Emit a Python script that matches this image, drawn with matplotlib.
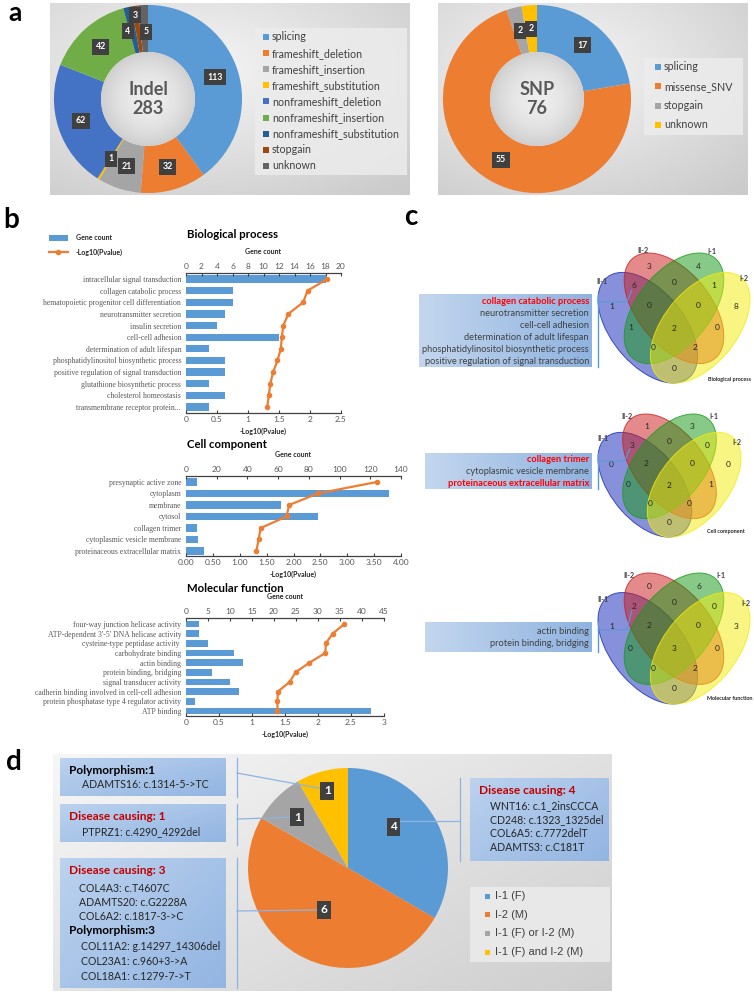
import numpy as np
import matplotlib
matplotlib.use('Agg')
import matplotlib.pyplot as plt
from matplotlib.patches import Rectangle, Ellipse, Circle
from matplotlib.colors import to_rgb

W, H = 754, 992
plt.rcParams['font.family'] = ['Lato', 'DejaVu Sans']

#%% data - panel a
indel_types = ['splicing', 'frameshift_deletion', 'frameshift_insertion', 'frameshift_substitution',
               'nonframeshift_deletion', 'nonframeshift_insertion', 'nonframeshift_substitution',
               'stopgain', 'unknown']
indel_counts = [113, 32, 21, 1, 62, 42, 4, 3, 5]
snp_types = ['splicing', 'missense_SNV', 'stopgain', 'unknown']
snp_counts = [17, 55, 2, 2]

#%% data - panel b
bp_terms = ['intracellular signal transduction', 'collagen catabolic process',
            'hematopoietic progenitor cell differentiation', 'neurotransmitter secretion',
            'insulin secretion', 'cell-cell adhesion', 'determination of adult lifespan',
            'phosphatidylinositol biosynthetic process', 'positive regulation of signal transduction',
            'glutathione biosynthetic process', 'cholesterol homeostasis', 'transmembrane receptor protein...']
bp_genes = [18, 6, 6, 5, 4, 12, 3, 5, 5, 3, 5, 3]
bp_logp = [2.28, 1.96, 1.89, 1.65, 1.57, 1.545, 1.53, 1.475, 1.405, 1.36, 1.335, 1.31]

cc_terms = ['presynaptic active zone', 'cytoplasm', 'membrane', 'cytosol', 'collagen trimer',
            'cytoplasmic vesicle membrane', 'proteinaceous extracellular matrix']
cc_genes = [7, 132, 62, 86, 7, 8, 12]
cc_logp = [3.55, 2.45, 1.92, 1.87, 1.39, 1.35, 1.31]

mf_terms = ['four-way junction helicase activity', "ATP-dependent 3'-5' DNA helicase activity",
            'cysteine-type peptidase activity ', 'carbohydrate binding', 'actin binding',
            'protein binding, bridging', 'signal transducer activity',
            'cadherin binding involved in cell-cell adhesion',
            'protein phosphatase type 4 regulator activity', 'ATP binding']
mf_genes = [3, 3, 5, 11, 13, 6, 10, 12, 2, 42]
mf_logp = [2.40, 2.22, 2.12, 2.11, 1.87, 1.66, 1.57, 1.39, 1.385, 1.385]

#%% data - panel c (region order below)
venn_sets = ['II-1', 'II-2', 'I-1', 'I-2']
venn_regions = ['II-1', 'II-2', 'I-1', 'I-2', 'II-1&II-2', 'II-1&I-1', 'II-1&I-2', 'II-2&I-1',
                'II-2&I-2', 'I-1&I-2', 'II-1&II-2&I-1', 'II-1&II-2&I-2', 'II-1&I-1&I-2',
                'II-2&I-1&I-2', 'all']
bp_venn = [1, 3, 4, 8, 6, 1, 0, 0, 0, 1, 0, 2, 0, 0, 2]
cc_venn = [0, 1, 3, 0, 3, 0, 0, 0, 1, 0, 2, 0, 0, 0, 2]
mf_venn = [1, 0, 6, 3, 2, 0, 0, 0, 0, 0, 2, 2, 0, 0, 3]
bp_shared = ['collagen catabolic process', 'neurotransmitter secretion', 'cell-cell adhesion',
             'determination of adult lifespan', 'phosphatidylinositol biosynthetic process',
             'positive regulation of signal transduction']
bp_red = [True, False, False, False, False, False]
cc_shared = ['collagen trimer', 'cytoplasmic vesicle membrane', 'proteinaceous extracellular matrix']
cc_red = [True, False, True]
mf_shared = ['actin binding', 'protein binding, bridging']
mf_red = [False, False]

#%% data - panel d
d_groups = ['I-1 (F)', 'I-2 (M)', 'I-1 (F) or I-2 (M)', 'I-1 (F) and I-2 (M)']
d_counts = [4, 6, 1, 1]
poly_both = ['ADAMTS16: c.1314-5->TC']
dc_either = ['PTPRZ1: c.4290_4292del']
dc_I2 = ['COL4A3: c.T4607C', 'ADAMTS20: c.G2228A', 'COL6A2: c.1817-3->C']
poly_I2 = ['COL11A2: g.14297_14306del', 'COL23A1: c.960+3->A', 'COL18A1: c.1279-7->T']
dc_I1 = ['WNT16: c.1_2insCCCA', 'CD248: c.1323_1325del', 'COL6A5: c.7772delT', 'ADAMTS3: c.C181T']

#%% colours
XL = ['#5B9BD5', '#ED7D31', '#A5A5A5', '#FFC000', '#4472C4', '#70AD47', '#255E91', '#9E480E', '#636363']
BLUE, ORANGE = '#5B9BD5', '#ED7D31'
RED_TXT = '#C00000'

fig = plt.figure(figsize=(W/100, H/100), dpi=100)


def rect(x0, y0, x1, y1):
    return [x0/W, 1-y1/H, (x1-x0)/W, (y1-y0)/H]


bg = fig.add_axes([0, 0, 1, 1], zorder=0)
ov = fig.add_axes([0, 0, 1, 1], zorder=10)
ov.patch.set_visible(False)


def gradient(ax, x0, y0, x1, y1, c0, c1, mode='diag', zorder=0):
    U, V = np.meshgrid(np.linspace(0, 1, 80), np.linspace(0, 1, 80))
    if mode == 'radial':
        t = np.clip(np.hypot(U-0.4, V-0.35)/0.85, 0, 1)
    elif mode == 'h':
        t = U
    else:
        t = 0.55*U + 0.45*V
    a, b = np.array(to_rgb(c0)), np.array(to_rgb(c1))
    ax.imshow(a + (b-a)*t[..., None], extent=(x0, x1, y1, y0), aspect='auto',
              interpolation='bilinear', zorder=zorder)


def panel_letter(x, y, s, fs=20):
    ov.text(x, y, s, fontsize=fs, fontweight='bold', ha='center', va='baseline', color='black')


#%% panel a
gradient(bg, 50, 3, 410, 195, '#f6f6f6', '#cbcbcb', 'radial')
gradient(bg, 438, 3, 748, 195, '#f6f6f6', '#cbcbcb', 'radial')
panel_letter(15, 21, 'a', 19)


def donut(cx, cy, R, counts, colors, center_text, offsets):
    ax = fig.add_axes(rect(cx-R, cy-R, cx+R, cy+R), zorder=2)
    wedges, _ = ax.pie(counts, colors=colors, startangle=90, counterclock=False, radius=1,
                       wedgeprops=dict(width=0.5, edgecolor='none'))
    # shaded hole
    U, V = np.meshgrid(np.linspace(-0.5, 0.5, 60), np.linspace(-0.5, 0.5, 60))
    t = np.clip(np.hypot(U, V)/0.5, 0, 1)**2
    a, b = np.array(to_rgb('#ededed')), np.array(to_rgb('#cfcfcf'))
    im = ax.imshow(a + (b-a)*t[..., None], extent=(-0.5, 0.5, -0.5, 0.5), interpolation='bilinear', zorder=1)
    im.set_clip_path(Circle((0, 0), 0.5, transform=ax.transData))
    for w, n, off in zip(wedges, counts, offsets):
        th = np.deg2rad((w.theta1 + w.theta2)/2)
        ax.annotate(str(n), (0.75*np.cos(th), 0.75*np.sin(th)), xytext=off, textcoords='offset points',
                    ha='center', va='center', color='white', fontsize=6.3, fontweight='bold', zorder=5,
                    bbox=dict(boxstyle='square,pad=0.4', fc='#404040', ec='none'))
    ax.text(0, 0, center_text, ha='center', va='center', fontsize=13, fontweight='bold',
            color='#595959', linespacing=1.1, zorder=5)
    ax.set_xlim(-1.01, 1.01)
    ax.set_ylim(-1.01, 1.01)
    return ax


donut(148, 99, 95, indel_counts, XL, 'Indel\n%d' % sum(indel_counts),
      [(0, 0)]*6 + [(-3.5, -0.7), (-2.2, 10), (1.5, -2.2)])
donut(537, 99, 95, snp_counts, [XL[0], XL[1], XL[2], XL[3]], 'SNP\n%d' % sum(snp_counts),
      [(0, 0)]*4)


def legend_box(x0, y0, x1, y1, labels, colors, ty0, dy, sx, tx, fs, family=None, ms=6):
    ov.add_patch(Rectangle((x0, y0), x1-x0, y1-y0, fc='#ececec', ec='none', alpha=0.85, zorder=1))
    for i, (lab, c) in enumerate(zip(labels, colors)):
        y = ty0 + i*dy
        ov.add_patch(Rectangle((sx, y-ms/2), ms, ms, fc=c, ec='none', zorder=2))
        ov.text(tx, y, lab, fontsize=fs, color='#404040', va='center', ha='left', zorder=3,
                family=family)


legend_box(255, 28, 407, 175, indel_types, XL, 37, 16.1, 263, 272, 7.7)
legend_box(644, 58, 743, 135, snp_types, XL[:4], 67, 19.3, 655, 664, 7.7)

#%% panel b
panel_letter(11, 228, 'b')
ov.add_patch(Rectangle((49, 235), 19, 6, fc=BLUE, ec='none'))
ov.text(76, 238, 'Gene count', fontsize=5, fontweight='bold', va='center', color='#262626')
ov.plot([49, 68], [252, 252], color=ORANGE, lw=1.6)
ov.plot([58], [252], 'o', color=ORANGE, ms=3)
ov.text(76, 252, '-Log10(Pvalue)', fontsize=5, fontweight='bold', va='center', color='#262626')


def go_chart(box, rows, terms, genes, logp, gmax, gstep, pmax, pstep, pfmt, bar_h, title, title_y):
    x0, x1, ytop, ybot = box
    y_first, y_last = rows
    n = len(terms)
    s = (y_last - y_first)/(n-1)
    ax = fig.add_axes(rect(x0, ytop, x1, ybot), zorder=2)
    ax.patch.set_visible(False)
    ax.barh(np.arange(n), genes, height=bar_h, color=BLUE)
    ax.set_xlim(0, gmax)
    ax.set_ylim(n-1 + (ybot-y_last)/s, -(y_first-ytop)/s)
    ax.set_yticks(np.arange(n))
    ax.set_yticklabels(terms, family='Liberation Serif', fontsize=5.6, color='#595959')
    ax.tick_params(axis='y', length=0, pad=3.5)

    axp = ax.twiny()
    axp.plot(logp, np.arange(n), color=ORANGE, lw=1.6, marker='o', ms=3)
    axp.set_xlim(0, pmax)

    # gene count on top, -log10 p on bottom (set after twiny, which moves ticks)
    ax.xaxis.set_ticks_position('top')
    ax.xaxis.set_label_position('top')
    ax.set_xticks(np.arange(0, gmax+0.1, gstep))
    ax.set_xlabel('Gene count', fontsize=5, fontweight='bold', labelpad=6, color='#262626')
    ax.tick_params(axis='x', direction='in', length=2.5, width=0.8, color='#404040',
                   labelsize=6, labelcolor='#595959', pad=2.5)
    for k in ['left', 'right', 'bottom']:
        ax.spines[k].set_visible(False)
    ax.spines['top'].set_linewidth(0.9)
    ax.spines['top'].set_color('#404040')

    axp.xaxis.set_ticks_position('bottom')
    axp.xaxis.set_label_position('bottom')
    ticks = np.arange(0, pmax+1e-9, pstep)
    axp.set_xticks(ticks)
    axp.set_xticklabels([pfmt.format(t) for t in ticks])
    axp.set_xlabel('-Log10(Pvalue)', fontsize=5, fontweight='bold', labelpad=3, color='#262626')
    axp.tick_params(axis='x', direction='in', length=2.5, width=0.8, color='#404040',
                    labelsize=6, labelcolor='#595959', pad=2.5)
    for k in ['left', 'right', 'top']:
        axp.spines[k].set_visible(False)
    axp.spines['bottom'].set_linewidth(0.9)
    axp.spines['bottom'].set_color('#404040')
    ov.text(x0 + 1, title_y, title, fontsize=8.2, fontweight='bold', va='center', ha='left', color='black')


go_chart((186, 341, 273, 413), (279, 407), bp_terms, bp_genes, bp_logp, 20, 2, 2.5, 0.5, '{:g}',
         0.62, 'Biological process', 234)
go_chart((186, 401, 476, 556), (482, 551), cc_terms, cc_genes, cc_logp, 140, 20, 4, 0.5, '{:.2f}',
         0.68, 'Cell component', 445)
go_chart((186, 384, 618, 716), (624, 711), mf_terms, mf_genes, mf_logp, 45, 5, 3, 0.5, '{:g}',
         0.72, 'Molecular function', 589)

#%% panel c
panel_letter(411, 225, 'c')

VENN_ELL = [((0.35, 0.47), -45, '#1a2bb8'), ((0.50, 0.57), -45, '#cc1f1f'),
            ((0.50, 0.57), 45, '#1a9a1a'), ((0.65, 0.47), 45, '#f2ec10')]
REGION_POS = {'II-1': (0.145, 0.58), 'II-2': (0.36, 0.785), 'I-1': (0.64, 0.785), 'I-2': (0.855, 0.58),
              'II-1&II-2': (0.27, 0.685), 'I-1&I-2': (0.73, 0.685), 'II-2&I-1': (0.5, 0.705),
              'II-1&II-2&I-1': (0.36, 0.585), 'II-2&I-1&I-2': (0.64, 0.585),
              'II-1&I-1': (0.25, 0.47), 'II-2&I-2': (0.75, 0.47), 'all': (0.5, 0.468),
              'II-1&I-1&I-2': (0.38, 0.368), 'II-1&II-2&I-2': (0.62, 0.368), 'II-1&I-2': (0.5, 0.262)}


def venn(shape, counts, cat_pos, title, title_xy):
    x0, x1, ytop, ybot = shape
    sx, sy = (x1-x0)/0.87, (ybot-ytop)/0.67
    L, R = x0 - 0.065*sx, x0 + 0.935*sx
    T, B = ytop - 0.145*sy, ytop + 0.855*sy
    ax = fig.add_axes(rect(L, T, R, B), zorder=2)
    ax.set_xlim(0, 1)
    ax.set_ylim(0, 1)
    ax.axis('off')
    for (c, ang, col) in VENN_ELL:
        ax.add_patch(Ellipse(c, 0.70, 0.40, angle=ang, fc=col, alpha=0.52, ec='none'))
        ax.add_patch(Ellipse(c, 0.70, 0.40, angle=ang, fc='none', ec=col, lw=0.7, alpha=0.8))
    for reg, n in zip(venn_regions, counts):
        ax.text(*REGION_POS[reg], str(n), ha='center', va='center', fontsize=6, color='#262626', zorder=5)
    for name, p in zip(venn_sets, cat_pos):
        ax.text(*p, name, ha='center', va='center', fontsize=5.2, fontweight='bold', color='#404040')
    ov.text(*title_xy, title, fontsize=3.9, fontweight='bold', color='#262626', va='center', ha='left')
    return lambda mx, my: (L + mx*(R-L), B - my*(B-T))


def shared_box(x0, y0, x1, y1, lines, red, ty0, dy, to_px):
    gradient(bg, x0, y0, x1, y1, '#c3d6ee', '#8fb3e0', 'h', zorder=1)
    for i, (s, r) in enumerate(zip(lines, red)):
        ov.text(x1-3, ty0 + i*dy, s, ha='right', va='center', fontsize=6.7,
                color='#FF0000' if r else '#404040', fontweight='bold' if r else 'normal')
    ov.plot([598, 598], [y0, y1], color=BLUE, lw=1)
    lx, ly = to_px(*REGION_POS['II-1&II-2'])
    ov.plot([598, lx-7, lx-2], [y0+8, y0+8, ly+4], color=BLUE, lw=0.8)


cat1 = [(0.09, 0.71), (0.32, 0.87), (0.72, 0.865), (0.90, 0.725)]
cat2 = [(0.095, 0.72), (0.24, 0.84), (0.77, 0.84), (0.91, 0.70)]
v1 = venn((598, 750, 253, 383), bp_venn, cat1, 'Biological process', (708, 379))
v2 = venn((598, 741, 414, 537), cc_venn, cat2, 'Cell component', (707, 532))
v3 = venn((598, 750, 573, 704), mf_venn, cat2, 'Molecular function', (707, 698))
shared_box(419, 294, 592, 367, bp_shared, bp_red, 301, 12.1, v1)
shared_box(425, 453, 592, 489, cc_shared, cc_red, 459, 12.4, v2)
shared_box(425, 622, 592, 652, mf_shared, mf_red, 631, 13, v3)

#%% panel d
panel_letter(14, 770, 'd')
gradient(bg, 53, 754, 612, 991, '#f7f7f7', '#cecece', 'diag')

pcx, pcy, pR = 348, 868, 101
axd = fig.add_axes(rect(pcx-pR, pcy-pR, pcx+pR, pcy+pR), zorder=2)
wd, _ = axd.pie(d_counts, colors=[XL[0], XL[1], XL[2], XL[3]], startangle=90, counterclock=False,
                radius=1, wedgeprops=dict(edgecolor='none'))
axd.set_xlim(-1.01, 1.01)
axd.set_ylim(-1.01, 1.01)
lab_r = [0.6, 0.48, 0.71, 0.79]
lab_off = [(-7, -11), (0, 0), (0, 0), (0, 0)]
lab_px = []
for w, r, off, n in zip(wd, lab_r, lab_off, d_counts):
    th = np.deg2rad((w.theta1 + w.theta2)/2)
    px, py = pcx + pR*r*np.cos(th) + off[0], pcy - pR*r*np.sin(th) + off[1]
    lab_px.append((px, py))
    ov.text(px, py, str(n), ha='center', va='center', color='white', fontsize=8.5, fontweight='bold',
            bbox=dict(boxstyle='square,pad=0.3', fc='#404040', ec='none'), zorder=6)

# connectors
for (yb0, yb1) in [(758, 797), (804, 845), (858, 988)]:
    ov.plot([237, 237], [yb0, yb1], color='#8db3e2', lw=0.9)
ov.plot([460, 460], [778, 861], color='#8db3e2', lw=0.9)
ov.plot([237, lab_px[3][0]-4], [773, lab_px[3][1]-2], color='#8db3e2', lw=0.9, zorder=5)
ov.plot([237, lab_px[2][0]-6], [819, lab_px[2][1]], color='#8db3e2', lw=0.9, zorder=5)
ov.plot([237, lab_px[1][0]-6], [911, lab_px[1][1]], color='#8db3e2', lw=0.9, zorder=5)
ov.plot([460, lab_px[0][0]+6], [821, 821], color='#8db3e2', lw=0.9, zorder=5)


def variant_box(x0, y0, x1, y1, blocks):
    gradient(bg, x0, y0, x1, y1, '#bcd2ee', '#92b5e2', 'diag', zorder=1)
    for (tx, ty, s, kind) in blocks:
        if kind == 'red':
            ov.text(tx, ty, s, fontsize=8.6, fontweight='bold', color=RED_TXT, va='center')
        elif kind == 'head':
            ov.text(tx, ty, s, fontsize=8.6, fontweight='bold', color='black', va='center')
        else:
            ov.text(tx, ty, s, fontsize=7.6, color='#262626', va='center')


variant_box(60, 758, 226, 796, [(69, 770, 'Polymorphism:%d' % len(poly_both), 'head')] +
            [(82, 785 + 14*i, s, 'item') for i, s in enumerate(poly_both)])
variant_box(60, 804, 226, 842, [(69, 817, 'Disease causing: %d' % len(dc_either), 'red')] +
            [(82, 832 + 14*i, s, 'item') for i, s in enumerate(dc_either)])
variant_box(60, 858, 226, 988, [(69, 871, 'Disease causing: %d' % len(dc_I2), 'red')] +
            [(79, 888 + 14*i, s, 'item') for i, s in enumerate(dc_I2)] +
            [(69, 931, 'Polymorphism:%d' % len(poly_I2), 'head')] +
            [(81, 947 + 14.5*i, s, 'item') for i, s in enumerate(poly_I2)])
variant_box(470, 778, 609, 861, [(479, 791, 'Disease causing: %d' % len(dc_I1), 'red')] +
            [(490, 806 + 13.7*i, s, 'item') for i, s in enumerate(dc_I1)])

legend_box(470, 887, 610, 962, d_groups, XL[:4], 896, 18.7, 485, 495, 8, family='Liberation Sans', ms=5)

for a in (bg, ov):
    a.set_xlim(0, W)
    a.set_ylim(H, 0)
    a.axis('off')

fig.savefig('out.png', dpi=100)
